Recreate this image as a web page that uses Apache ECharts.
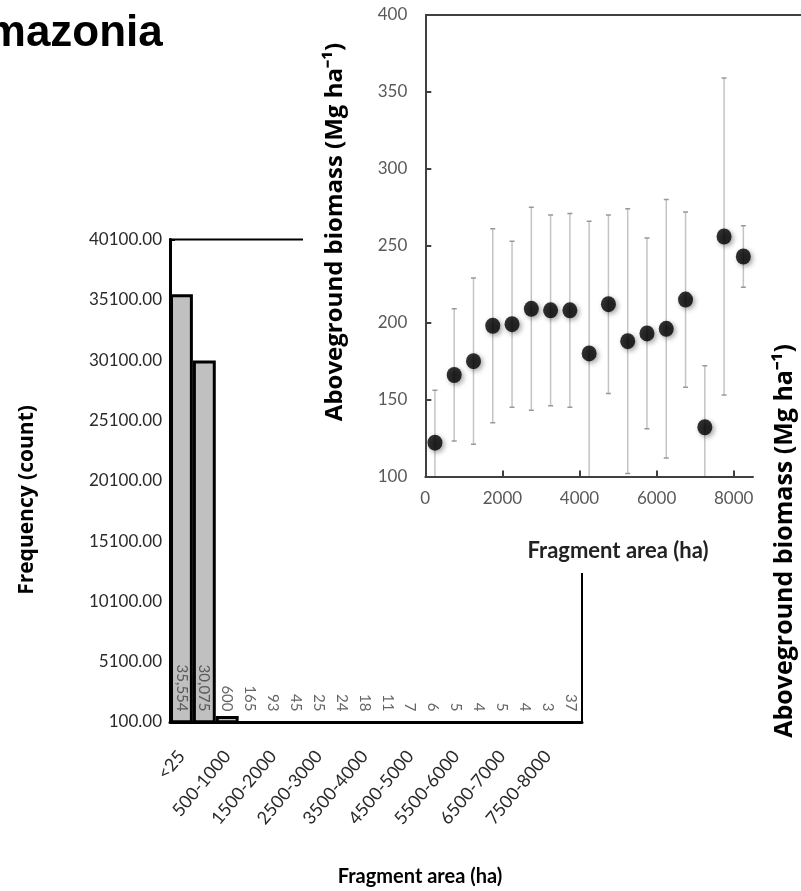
<!DOCTYPE html>
<html><head><meta charset="utf-8">
<script src="https://cdn.jsdelivr.net/npm/echarts@6/dist/echarts.min.js"></script>
<style>html,body{margin:0;padding:0;background:#fff}#c{width:801px;height:891px}</style>
</head><body><div id="c"></div>
<script>
// ---- Histogram data ----
const histCategories = ['<25','25-500','500-1000','1000-1500','1500-2000','2000-2500','2500-3000','3000-3500','3500-4000','4000-4500','4500-5000','5000-5500','5500-6000','6000-6500','6500-7000','7000-7500','7500-8000','>8000'];
const histCounts = [35554,30075,600,165,93,45,25,24,18,11,7,6,5,4,5,4,3,37];
const histYMin = 100;
const histYMax = 40100;
const histYInterval = 5000;

// ---- Inset biomass data ----
const biomassArea = [250,750,1250,1750,2250,2750,3250,3750,4250,4750,5250,5750,6250,6750,7250,7750,8250];
const biomassMean = [122,166,175,198,199,209,208,208,180,212,188,193,196,215,132,256,243];
const biomassErr  = [34,43,54,63,54,66,62,63,86,58,86,62,84,57,40,103,20];
const areaTicks = [0,2000,4000,6000,8000];
const biomassYMin = 100, biomassYMax = 400, biomassYInterval = 50;
const areaMax = 8500;

const FONT = 'Lato';
const chart = echarts.init(document.getElementById('c'), null, {renderer:'canvas'});

const option = {
  animation:false,
  backgroundColor:'#fff',
  grid:[
    {left:170, right:219, top:239.5, bottom:169, show:true, borderColor:'#000', borderWidth:2, backgroundColor:'rgba(0,0,0,0)'},
    {left:425.3, right:48, top:15, bottom:414.5}
  ],
  xAxis:[
    {type:'category', gridIndex:0, data:histCategories, boundaryGap:true,
     axisLine:{lineStyle:{color:'#000', width:3}},
     axisTick:{inside:true, interval:0, length:5, lineStyle:{color:'#000', width:2}},
     axisLabel:{interval:1, rotate:50, margin:31, fontFamily:FONT, fontSize:18, color:'#2a2a2a'}},
    {type:'value', gridIndex:1, min:0, max:areaMax, z:10,
     axisLine:{lineStyle:{color:'#404040', width:2}},
     axisTick:{inside:true, length:6, customValues:areaTicks, lineStyle:{color:'#404040', width:2}},
     axisLabel:{customValues:areaTicks, margin:14, fontFamily:FONT, fontSize:17, color:'#595959', formatter:v=>String(v)},
     splitLine:{show:false}}
  ],
  yAxis:[
    {type:'value', gridIndex:0, min:histYMin, max:histYMax, interval:histYInterval,
     axisLine:{show:true, lineStyle:{color:'#000', width:3}},
     axisTick:{show:true, inside:true, length:5, lineStyle:{color:'#000', width:2}},
     axisLabel:{margin:8, fontFamily:FONT, fontSize:17, color:'#2a2a2a', formatter:v=>v.toFixed(2)},
     splitLine:{show:false}},
    {type:'value', gridIndex:1, min:biomassYMin, max:biomassYMax, interval:biomassYInterval, z:10,
     axisLine:{show:true, lineStyle:{color:'#404040', width:2}},
     axisTick:{show:true, inside:true, length:6, lineStyle:{color:'#404040', width:2}},
     axisLabel:{margin:18, fontFamily:FONT, fontSize:17, color:'#595959'},
     splitLine:{show:false}}
  ],
  series:[
    {type:'bar', xAxisIndex:0, yAxisIndex:0, data:histCounts, barCategoryGap:'0%', barGap:'0%',
     itemStyle:{color:'#c0c0c0', borderColor:'#000', borderWidth:3}},
    {type:'scatter', xAxisIndex:0, yAxisIndex:0, clip:false, symbolSize:1,
     data:histCounts.map((c,i)=>[i, histYMin]),
     itemStyle:{color:'rgba(0,0,0,0)'},
     label:{show:true, position:'top', distance:10, rotate:-90, align:'right', verticalAlign:'middle',
       fontFamily:FONT, fontSize:15, color:'#404040',
       formatter:p=>histCounts[p.dataIndex].toLocaleString('en-US')}},
    {type:'custom', xAxisIndex:1, yAxisIndex:1, z:8, clip:true,
     data:biomassArea.map((a,i)=>[a, biomassMean[i]-biomassErr[i], biomassMean[i]+biomassErr[i]]),
     renderItem:(params, api)=>{
       const x = api.value(0);
       const lo = api.coord([x, api.value(1)]);
       const hi = api.coord([x, api.value(2)]);
       const c = 2.5;
       return {type:'group', children:[
         {type:'line', shape:{x1:lo[0], y1:lo[1], x2:hi[0], y2:hi[1]}, style:{stroke:'#c4c4c4', lineWidth:1.5}},
         {type:'line', shape:{x1:hi[0]-c, y1:hi[1], x2:hi[0]+c, y2:hi[1]}, style:{stroke:'#999', lineWidth:1.5}},
         {type:'line', shape:{x1:lo[0]-c, y1:lo[1], x2:lo[0]+c, y2:lo[1]}, style:{stroke:'#999', lineWidth:1.5}}
       ]};
     }},
    {type:'scatter', xAxisIndex:1, yAxisIndex:1, z:9, symbolSize:[15,16],
     data:biomassArea.map((a,i)=>[a, biomassMean[i]]),
     itemStyle:{color:'#000', shadowBlur:5, shadowColor:'rgba(0,0,0,0.45)', shadowOffsetX:2, shadowOffsetY:2}}
  ],
  graphic:[
    {type:'rect', z:3, shape:{x:303, y:0, width:498, height:573}, style:{fill:'#fff'}},
    {type:'line', z:12, shape:{x1:425, y1:15, x2:801, y2:15}, style:{stroke:'#404040', lineWidth:2}},
    {type:'text', z:20, x:-45, y:34, style:{text:'Amazonia', font:'bold 44px "Liberation Sans"', fill:'#000', align:'left', verticalAlign:'middle'}},
    {type:'text', z:20, x:27, y:500, rotation:Math.PI/2, style:{text:'Frequency (count)', font:'bold 21px "Open Sans"', fill:'#000', align:'center', verticalAlign:'middle'}},
    {type:'text', z:20, x:420, y:877, style:{text:'Fragment area (ha)', font:'bold 20px Lato', fill:'#000', align:'center', verticalAlign:'middle'}},
    {type:'text', z:20, x:618, y:551, style:{text:'Fragment area (ha)', font:'bold 22px Lato', fill:'#222', align:'center', verticalAlign:'middle'}},
    {type:'text', z:20, x:335, y:232, rotation:Math.PI/2, style:{text:'Aboveground biomass (Mg ha\u207B\u00B9)', font:'bold 24px "Open Sans"', fill:'#000', align:'center', verticalAlign:'middle'}},
    {type:'text', z:20, x:785, y:541, rotation:Math.PI/2, style:{text:'Aboveground biomass (Mg ha\u207B\u00B9)', font:'bold 25px "Open Sans"', fill:'#000', align:'center', verticalAlign:'middle'}}
  ]
};
chart.setOption(option);
</script></body></html>
